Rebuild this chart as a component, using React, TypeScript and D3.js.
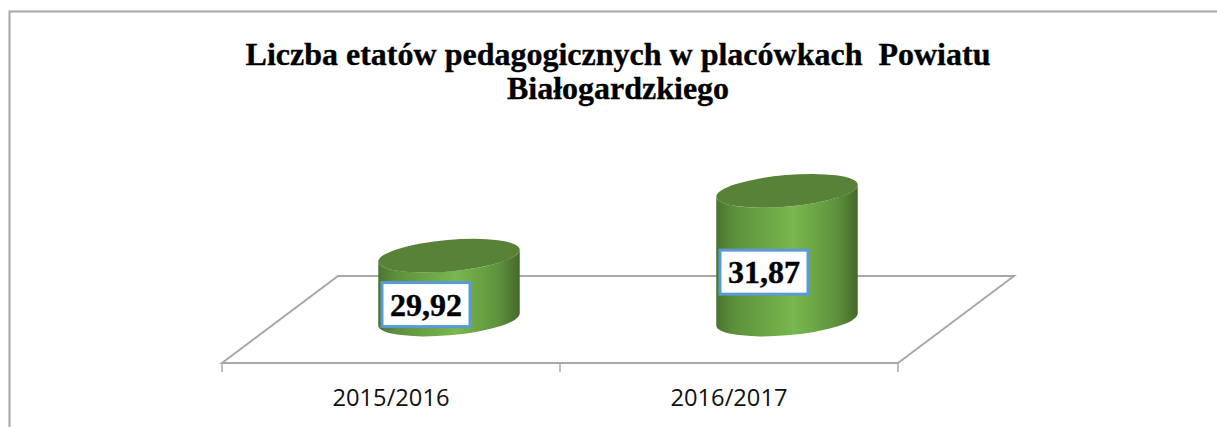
import React from "react";
import * as d3 from "d3";

const categories = ["2015/2016", "2016/2017"];
const values = [29.92, 31.87];
const valueLabels = ["29,92", "31,87"];
const titleLines = ["Liczba etatów pedagogicznych w placówkach  Powiatu", "Białogardzkiego"];

const width = 1217;
const height = 427;

// floor of the 3D plot
const floorFront = 363;
const floorBack = 276;
const floorDepth = 116;
const floorLeft = 222;
const floorRight = 898;

// top and bottom ellipses of a cylinder
const rx = 71;
const ry = 15.8;
const tilt = (-5 * Math.PI) / 180;

const xScale = d3.scaleBand<string>().domain(categories).range([floorLeft, floorRight]);
const yScale = d3.scaleLinear()
    .domain([28, 32])
    .range([(floorFront + floorBack) / 2, (floorFront + floorBack) / 2 - 133]);

// where the ellipse has its left/right extreme
const halfW = Math.sqrt(rx * rx * Math.cos(tilt) ** 2 + ry * ry * Math.sin(tilt) ** 2);
const edgeDy = ((rx * rx - ry * ry) * Math.sin(tilt) * Math.cos(tilt)) / halfW;
const tiltDeg = (tilt * 180) / Math.PI;

function sidePath(cx: number, top: number, bottom: number) {
    const lx = cx - halfW, rxx = cx + halfW;
    return `M${lx},${top - edgeDy} L${lx},${bottom - edgeDy}`
        + ` A${rx},${ry} ${tiltDeg} 0 0 ${rxx},${bottom + edgeDy}`
        + ` L${rxx},${top + edgeDy}`
        + ` A${rx},${ry} ${tiltDeg} 0 1 ${lx},${top - edgeDy} Z`;
}

export default function App() {
    const gray = "#a8a8a8";
    const labelW = 88;
    const labelH = 44;
    const ticks = [floorLeft, floorLeft + xScale.step(), floorRight];

    return (
        <svg width={width} height={height} style={{position: "absolute", left: 0, top: 0, display: "block", background: "#fff"}}>
            <defs>
                <linearGradient id="side" x1="0" x2="1" y1="0" y2="0">
                    <stop offset="0" stopColor="#4a7330" />
                    <stop offset="0.12" stopColor="#5c8f3b" />
                    <stop offset="0.55" stopColor="#78b84e" />
                    <stop offset="0.85" stopColor="#5e913c" />
                    <stop offset="1" stopColor="#44692b" />
                </linearGradient>
            </defs>

            {/* frame */}
            <path d={`M9.5,${height} L9.5,11.5 L${width},11.5`} fill="none" stroke="#a6a6a6" strokeWidth={2} />

            {/* title */}
            <g fontFamily="'Liberation Serif'" fontWeight="bold" fontSize={32} textAnchor="middle" fill="#000" stroke="#000" strokeWidth={0.35}>
                {titleLines.map((t, i) => (
                    <text key={i} x={618} y={65 + i * 34} xmlSpace="preserve" style={{whiteSpace: "pre"}}>{t}</text>
                ))}
            </g>

            {/* floor */}
            <path
                d={`M${floorLeft},${floorFront} L${floorLeft + floorDepth},${floorBack} L${floorRight + floorDepth},${floorBack} L${floorRight},${floorFront} Z`}
                fill="none" stroke={gray} strokeWidth={2}
            />
            {ticks.map(t => (
                <line key={t} x1={t} x2={t} y1={floorFront} y2={floorFront + 9} stroke={gray} strokeWidth={1.5} />
            ))}

            {/* cylinders */}
            {categories.map((c, i) => {
                const cx = xScale(c)! + xScale.bandwidth() / 2 + floorDepth / 2;
                const bottom = yScale(28);
                const top = yScale(values[i]);
                return (
                    <g key={c}>
                        <path d={sidePath(cx, top, bottom)} fill="url(#side)" />
                        <ellipse cx={0} cy={0} rx={rx} ry={ry} fill="#588238" transform={`translate(${cx},${top}) rotate(${tiltDeg})`} />
                    </g>
                );
            })}

            {/* value labels */}
            {categories.map((c, i) => {
                const cx = xScale(c)! + xScale.bandwidth() / 2 + floorDepth / 2 - 23;
                const cy = (yScale(28) + yScale(values[i])) / 2 + 17;
                return (
                    <g key={c}>
                        <rect x={cx - labelW / 2} y={cy - labelH / 2} width={labelW} height={labelH} fill="#fff" stroke="#5b9bd5" strokeWidth={3} />
                        <text x={cx} y={cy + 11} textAnchor="middle" fontFamily="'Liberation Serif'" fontWeight="bold" fontSize={32} fill="#000" stroke="#000" strokeWidth={0.4}>
                            {valueLabels[i]}
                        </text>
                    </g>
                );
            })}

            {/* category labels */}
            {categories.map(c => (
                <text key={c} x={xScale(c)! + xScale.bandwidth() / 2} y={406} textAnchor="middle" fontFamily="'Open Sans'" fontSize={23.7} fill="#111">
                    {c}
                </text>
            ))}
        </svg>
    );
}
